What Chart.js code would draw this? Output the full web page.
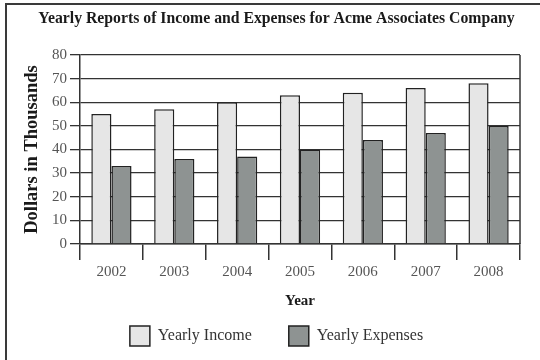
<!DOCTYPE html>
<html>
<head>
<meta charset="utf-8">
<script src="https://cdn.jsdelivr.net/npm/chart.js@4/dist/chart.umd.min.js"></script>
<style>
  html, body { margin: 0; padding: 0; background: #fff; }
  #wrap { width: 540px; height: 360px; }
</style>
</head>
<body>
<div id="wrap"><canvas id="grafico" width="540" height="360"></canvas></div>
<script>
const anos = ['2002', '2003', '2004', '2005', '2006', '2007', '2008'];
const receitas = [55, 57, 60, 63, 64, 66, 68];
const despesas = [33, 36, 37, 40, 44, 47, 50];
const ticksY = [0, 10, 20, 30, 40, 50, 60, 70, 80];

const serif = '"Liberation Serif", "Times New Roman", serif';
const linha = '#333';

// moldura da figura e borda direita da área do gráfico
const moldura = {
  id: 'moldura',
  beforeDraw(chart) {
    const c = chart.ctx;
    c.save();
    c.fillStyle = '#fff';
    c.fillRect(0, 0, chart.width, chart.height);
    c.strokeStyle = '#3a3a3a';
    c.lineWidth = 2;
    c.beginPath();
    c.moveTo(6, chart.height);
    c.lineTo(6, 4);
    c.lineTo(chart.width, 4);
    c.stroke();
    c.restore();
  },
  afterDatasetsDraw(chart) {
    const { ctx: c, chartArea: a } = chart;
    c.save();
    c.strokeStyle = linha;
    c.lineWidth = 1.5;
    c.beginPath();
    c.moveTo(a.right, a.top);
    c.lineTo(a.right, a.bottom);
    c.stroke();
    c.restore();
  }
};

new Chart(document.getElementById('grafico').getContext('2d'), {
  type: 'bar',
  data: {
    labels: anos,
    datasets: [{
      label: 'Yearly Income',
      data: receitas,
      backgroundColor: '#e6e6e6',
      borderColor: '#222',
      borderWidth: 1.5
    }, {
      label: 'Yearly Expenses',
      data: despesas,
      backgroundColor: '#8e9392',
      borderColor: '#222',
      borderWidth: 1.5
    }]
  },
  options: {
    responsive: false,
    animation: false,
    devicePixelRatio: 1,
    categoryPercentage: 0.64,
    barPercentage: 1.0,
    layout: { padding: { top: 0, left: 33, right: 20, bottom: 4 } },
    plugins: {
      title: {
        display: true,
        text: 'Yearly Reports of Income and Expenses for Acme Associates Company',
        color: '#1a1a1a',
        font: { family: serif, size: 15.75, weight: 'bold' },
        padding: { top: 9.75, bottom: 26.35 }
      },
      legend: {
        position: 'bottom',
        labels: {
          boxWidth: 20,
          boxHeight: 20,
          padding: 37,
          color: '#333',
          font: { family: serif, size: 16 }
        }
      },
      tooltip: { enabled: false }
    },
    scales: {
      x: {
        offset: true,
        grid: { display: true, drawOnChartArea: false, offset: true, tickLength: 16, color: linha, lineWidth: 1.5 },
        border: { display: true, color: linha, width: 1.5 },
        ticks: { color: '#555', padding: 3, font: { family: serif, size: 15 } },
        title: {
          display: true,
          text: 'Year',
          color: '#1a1a1a',
          font: { family: serif, size: 15, weight: 'bold' },
          padding: { top: 0, bottom: -21 }
        },
        afterFit(s) { s.height = 45; }
      },
      y: {
        min: 0,
        max: 80,
        afterBuildTicks(s) { s.ticks = ticksY.map(v => ({ value: v })); },
        grid: { color: linha, lineWidth: 1.3, tickLength: 10 },
        border: { display: true, color: linha, width: 1.5 },
        ticks: { color: '#555', padding: 3, font: { family: serif, size: 15 } },
        title: {
          display: true,
          text: 'Dollars in Thousands',
          color: '#1a1a1a',
          font: { family: serif, size: 18.5, weight: 'bold' },
          padding: { top: -12.1, bottom: 0 }
        },
        afterFit(s) { s.width = 47; }
      }
    }
  },
  plugins: [moldura]
});
</script>
</body>
</html>
